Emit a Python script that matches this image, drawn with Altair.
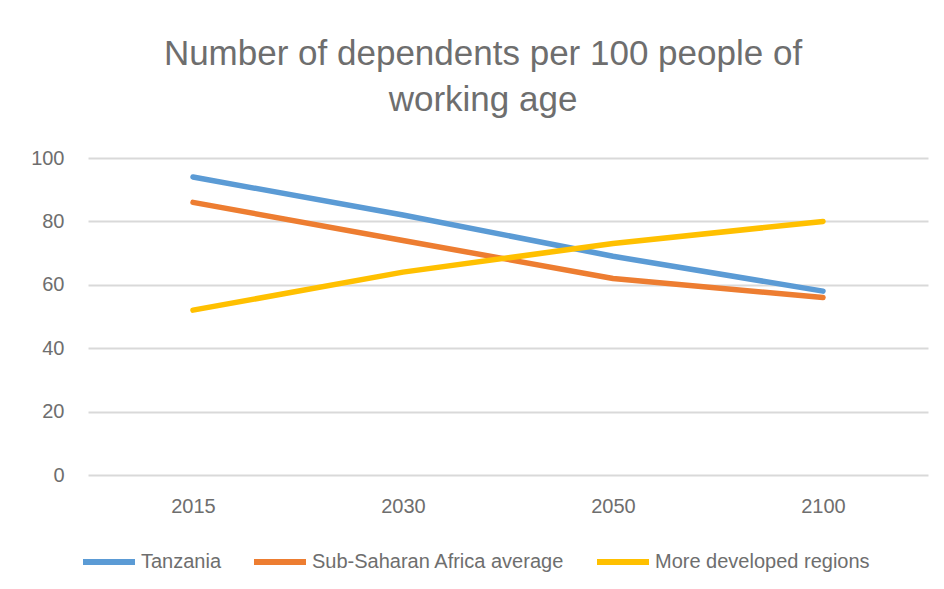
import altair as alt
import pandas as pd

years = ["2015", "2030", "2050", "2100"]
tanzania = [94, 82, 69, 58]
ssa = [86, 74, 62, 56]
developed = [52, 64, 73, 80]
series_names = ["Tanzania", "Sub-Saharan Africa average", "More developed regions"]
colors = ["#5B9BD5", "#ED7D31", "#FFC000"]

rows = []
for name, vals in zip(series_names, [tanzania, ssa, developed]):
    for y, v in zip(years, vals):
        rows.append({"Year": y, "Value": v, "Series": name})
df = pd.DataFrame(rows)

FONT = "Liberation Sans"
GRAY = "#6E6E6E"

chart = alt.Chart(df).mark_line(strokeWidth=5.5, strokeCap="round", strokeJoin="round").encode(
    x=alt.X("Year:N", sort=years,
            scale=alt.Scale(type="point", padding=0.5),
            axis=alt.Axis(title=None, labelAngle=0, domain=False, ticks=False,
                          labelPadding=21, labelFontSize=20, labelColor=GRAY, labelFont=FONT)),
    y=alt.Y("Value:Q", scale=alt.Scale(domain=[0, 100]),
            axis=alt.Axis(title=None, values=[0, 20, 40, 60, 80, 100], domain=False, ticks=False,
                          labelPadding=24, labelFontSize=20, labelColor=GRAY, labelFont=FONT,
                          gridColor="#D9D9D9", gridWidth=2)),
    color=alt.Color("Series:N", sort=series_names,
                    scale=alt.Scale(domain=series_names, range=colors),
                    legend=alt.Legend(title=None, orient="none", direction="horizontal",
                                      legendX=-8, legendY=375,
                                      symbolType="stroke", symbolSize=2704, symbolStrokeWidth=6,
                                      labelFontSize=20, labelColor=GRAY, labelFont=FONT,
                                      labelOffset=3, columnPadding=20, labelLimit=400)),
    order=alt.Order("Series:N")
).properties(
    width=840, height=317,
    title=alt.TitleParams(["Number of dependents per 100 people of", "working age"],
                          fontSize=35, font=FONT, color=GRAY, fontWeight="normal",
                          anchor="middle", offset=30, dx=-25, lineHeight=46),
    autosize=alt.AutoSizeParams(type="none"),
    padding={"left": 80, "top": 150, "right": 8, "bottom": 114}
).configure_view(stroke=None).configure_axisX(grid=False).configure_legend(
    symbolStrokeWidth=6, symbolType="stroke")

chart.save("out.html", embed_options={"renderer": "svg", "actions": False})
